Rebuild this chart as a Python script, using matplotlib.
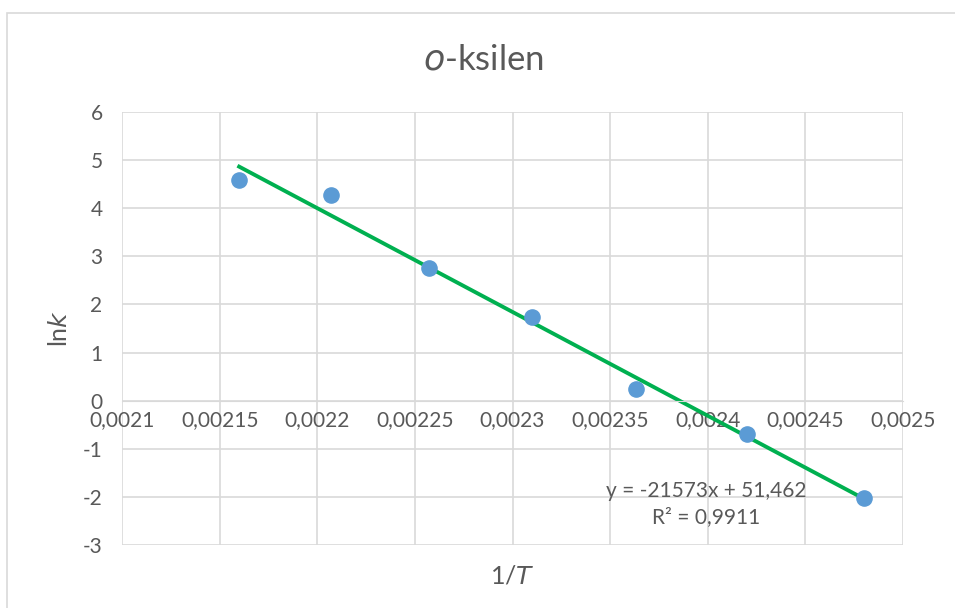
import matplotlib.pyplot as plt
from matplotlib.patches import Rectangle
import numpy as np

plt.rcParams['font.family'] = ['Lato', 'DejaVu Sans']

# podatki
inv_T = [0.00216, 0.002207, 0.002257, 0.00231, 0.002363, 0.00242, 0.00248]
ln_k = [4.58, 4.28, 2.75, 1.74, 0.24, -0.69, -2.03]
slope = -21573
intercept = 51.462
x_ticks = [0.0021, 0.00215, 0.0022, 0.00225, 0.0023, 0.00235, 0.0024, 0.00245, 0.0025]
x_labels = ["0,0021", "0,00215", "0,0022", "0,00225", "0,0023", "0,00235", "0,0024", "0,00245", "0,0025"]
y_ticks = [-3, -2, -1, 0, 1, 2, 3, 4, 5, 6]

fig = plt.figure(figsize=(9.55, 6.08), dpi=100)
ax = fig.add_axes([122/955, 1-545/608, (903-122)/955, (545-112)/608])

# okvir grafikona
fig.patches.append(Rectangle((7/955, -0.1), 1.1, 1-13/608+0.1, transform=fig.transFigure,
                             fill=False, edgecolor='#D9D9D9', linewidth=1.2))

ax.scatter(inv_T, ln_k, s=120, color='#5B9BD5', zorder=3)
xt = np.array([min(inv_T), max(inv_T)])
ax.plot(xt, slope*xt + intercept, color='#00B050', linewidth=2.8, zorder=2)

ax.set_xlim(0.0021, 0.0025)
ax.set_ylim(-3, 6)
ax.set_xticks(x_ticks)
ax.set_xticklabels(x_labels)
ax.set_yticks(y_ticks)
ax.set_yticklabels([str(v) for v in y_ticks])
ax.grid(True, color='#D9D9D9', linewidth=1.2)
ax.set_axisbelow(True)
for s in ['top', 'right', 'left']:
    ax.spines[s].set_visible(False)
ax.spines['bottom'].set_position(('data', 0))
ax.spines['bottom'].set_color('#D9D9D9')
ax.tick_params(length=0, labelsize=15, colors='#595959')
ax.tick_params(axis='x', pad=7)
ax.tick_params(axis='y', pad=14)

fig.text(483/955, 1-60/608, r"$\it{o}$-ksilen", ha='center', va='center', fontsize=25, color='#595959')
ax.text(0.5, -0.045, r"1/$\it{T}$", transform=ax.transAxes, ha='center', va='top',
        fontsize=18, color='#595959')
ax.text(-0.08, 0.5, r"ln$\it{k}$", transform=ax.transAxes, ha='center', va='center',
        rotation=90, fontsize=18, color='#595959')

ax.text(0.002399, -1.87, "y = -21573x + 51,462", ha='center', va='center', fontsize=15, color='#595959')
ax.text(0.002399, -2.42, "R² = 0,9911", ha='center', va='center', fontsize=15, color='#595959')

fig.savefig("out.png", dpi=100)
